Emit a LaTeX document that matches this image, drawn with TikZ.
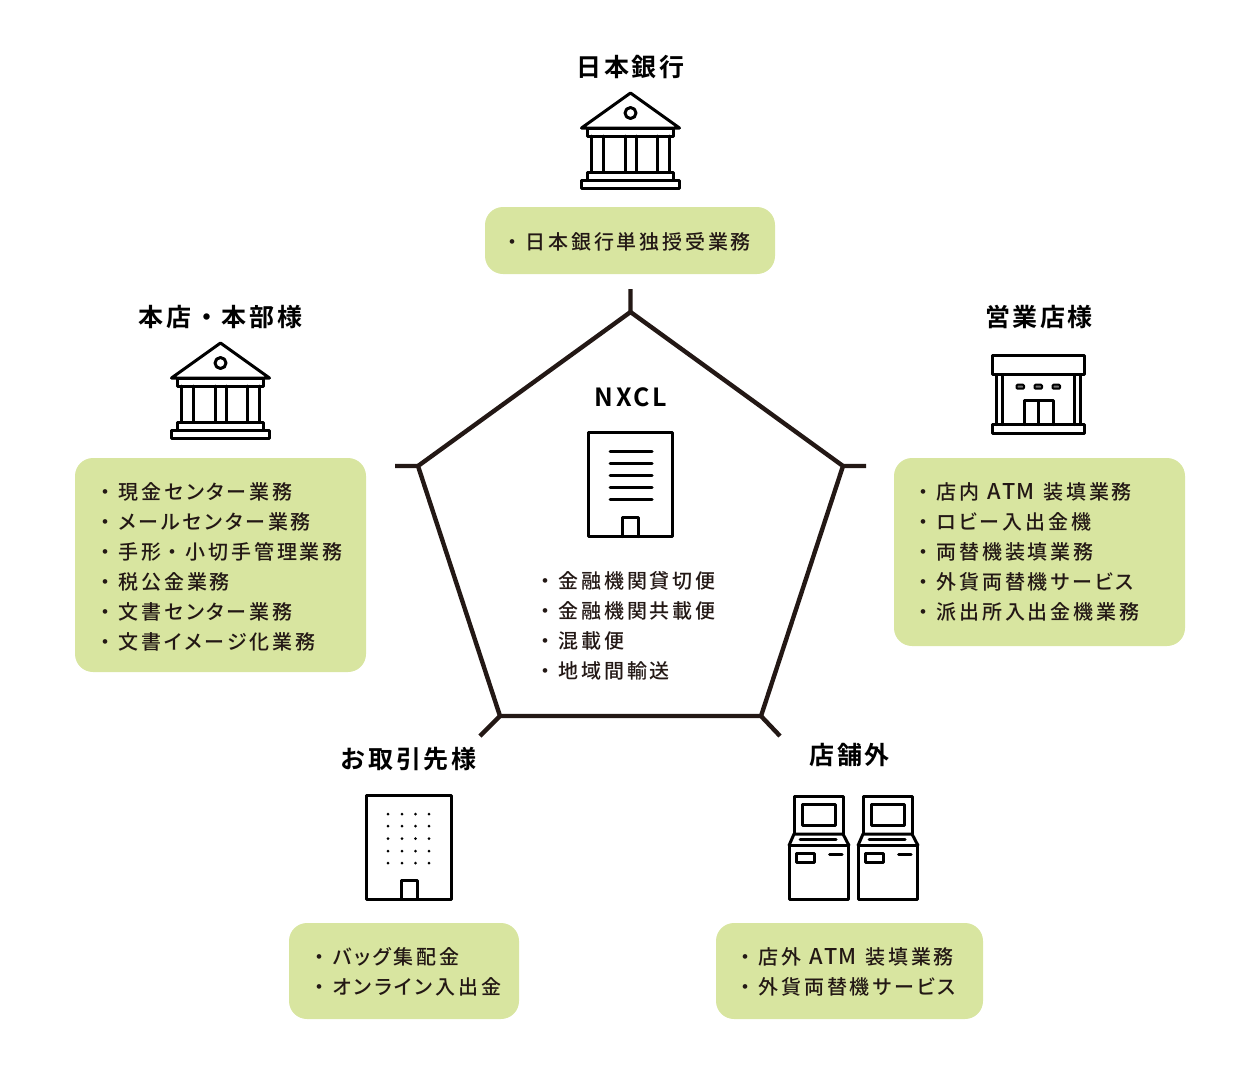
\documentclass[tikz,border=0pt]{standalone}
\usepackage{fontspec}
\newfontfamily\jpr[LetterSpace=14,RawFeature=+palt]{Noto Sans CJK JP Medium}
\newfontfamily\jpb[LetterSpace=14]{Noto Sans CJK JP Medium}
\newfontfamily\jpm[LetterSpace=10.5]{Noto Sans CJK JP Bold}
\newcommand{\dotb}{{\jpb ・}\kern3.5pt}
\newcommand{\dotm}{\kern1pt{\jpb ・}\kern3.5pt}
\newcommand{\atm}{\kern1pt{\fontsize{21.7}{30}\selectfont A\kern1pt T\kern1pt M}\kern9pt}
\definecolor{pent}{HTML}{231815}
\definecolor{boxg}{HTML}{D8E5A0}
\tikzset{
 x=1pt,y=-1pt,
 ttl/.style={inner sep=0,anchor=base,text=black,font=\jpm\fontsize{25}{30}\selectfont},
 lst/.style={inner sep=0,anchor=base west,text=pent,font=\jpr\fontsize{20}{30}\selectfont},
 gbox/.style={fill=boxg,draw=none,rounded corners=18pt,inner sep=0},
 ic/.style={draw=black,line width=3pt,line join=round,line cap=round},
 pentline/.style={draw=pent,line width=4.4pt,line join=miter},
 bankicon/.pic={
  \draw[ic] (-49,35)--(0,0)--(49,35)--cycle;
  \draw[ic] (0,20) circle (5.5);
  \draw[ic] (-43,35) rectangle (43,43);
  \foreach \a/\b in {-39/-27,-5.5/5.5,27/39}{\draw[ic] (\a,43)--(\a,79) (\b,43)--(\b,79);}
  \draw[ic] (-43,79) rectangle (43,87);
  \draw[ic] (-49,87) rectangle (49,95);
 },
 shopicon/.pic={
  \draw[ic] (0,0) rectangle (92.5,19);
  \draw[ic] (4.5,19)--(4.5,69) (10.5,19)--(10.5,69) (82,19)--(82,69) (88,19)--(88,69);
  \foreach \a in {24.5,42.5,60.5}{\draw[ic,line width=2pt,fill=black!55,rounded corners=1pt] (\a,29.2) rectangle (\a+7.5,33.2);}
  \draw[ic] (32,69)--(32,45)--(61.5,45)--(61.5,69) (46.5,45)--(46.5,69);
  \draw[ic] (0,69) rectangle (92.5,77.5);
 },
 atmicon/.pic={
  \draw[ic] (5,38)--(5,0)--(54,0)--(54,38);
  \draw[ic] (13.5,8) rectangle (46.5,29.5);
  \draw[ic] (0,49.5)--(5,38)--(54,38)--(60,49.5);
  \draw[ic] (11,43.5)--(47,43.5);
  \draw[ic] (0,49.5) rectangle (59.5,103.5);
  \draw[ic] (7.5,57) rectangle (25.5,66.5);
  \draw[ic] (40.5,58.5)--(53,58.5);
 },
 officeicon/.pic={
  \draw[ic] (0,0) rectangle (84.5,104);
  \draw[ic] (34.5,104)--(34.5,85)--(50.5,85)--(50.5,104);
 },
}
\begin{document}
\begin{tikzpicture}
\useasboundingbox (0,0) rectangle (1260,1080);
% pentagon
\coordinate (pT) at (630.5,312);
\coordinate (pR) at (843,466);
\coordinate (pBR) at (761,716);
\coordinate (pBL) at (500,716);
\coordinate (pL) at (418,466);
\coordinate (tT) at (630.5,289);
\coordinate (tR) at (866,466);
\coordinate (tBR) at (780,736);
\coordinate (tBL) at (480,736);
\coordinate (tL) at (395,466);
\draw[pentline] (pT)--(pR)--(pBR)--(pBL)--(pL)--cycle;
\draw[pentline] (pT)--(tT) (pR)--(tR) (pBR)--(tBR) (pBL)--(tBL) (pL)--(tL);
% boxes
\node[gbox,minimum width=290pt,minimum height=67pt] (bT) at (630,240.5) {};
\node[gbox,minimum width=291pt,minimum height=214pt] (bL) at (220.5,565) {};
\node[gbox,minimum width=291pt,minimum height=188pt] (bR) at (1039.5,552) {};
\node[gbox,minimum width=230pt,minimum height=96pt] (bBL) at (404,971) {};
\node[gbox,minimum width=267pt,minimum height=96pt] (bBR) at (849.5,971) {};
% titles
\node[ttl] (t1) at (630.5,76) {日本銀行};
\node[ttl] (t2) at (220.5,326) {本店・本部様};
\node[ttl] (t3) at (1039,326) {営業店様};
\node[ttl] (t4) at (408.5,768) {お取引先様};
\node[ttl] (t5) at (849.5,764) {店舗外};
\node[ttl] (t6) at (631,406) {NXCL};
% lists
\node[lst] (lT) at (502,249) {\dotb 日本銀行単独授受業務};
\foreach \t [count=\i] in {現金センター業務,メールセンター業務,手形\dotm 小切手管理業務,税公金業務,文書センター業務,文書イメージ化業務}
  \node[lst] (lL\i) at (95,469+30*\i) {\dotb\t};
\foreach \t [count=\i] in {店内 \atm 装填業務,ロビー入出金機,両替機装填業務,外貨両替機サービス,派出所入出金機業務}
  \node[lst] (lR\i) at (913,469+30*\i) {\dotb\t};
\foreach \t [count=\i] in {金融機関貸切便,金融機関共載便,混載便,地域間輸送}
  \node[lst] (lC\i) at (535,558+30*\i) {\dotb\t};
\foreach \t [count=\i] in {バッグ集配金,オンライン入出金}
  \node[lst] (lBL\i) at (309,934+30*\i) {\dotb\t};
\foreach \t [count=\i] in {店外 \atm 装填業務,外貨両替機サービス}
  \node[lst] (lBR\i) at (735,934+30*\i) {\dotb\t};
% icons
\pic at (630.5,93) {bankicon};
\pic at (220.5,343) {bankicon};
\pic at (992,355.5) {shopicon};
\pic at (789,796) {atmicon};
\pic at (858,796) {atmicon};
\pic at (366.5,795) {officeicon};
\foreach \x in {388,402,415.5,429}\foreach \y in {814,826,838.5,851,863}
  \fill[black] (\x,\y) circle (1.5);
% NXCL building
\pic at (588,432.5) {officeicon};
\foreach \y in {451,463,475,487,499}\draw[ic] (610,\y)--(652,\y);
\end{tikzpicture}
\end{document}
